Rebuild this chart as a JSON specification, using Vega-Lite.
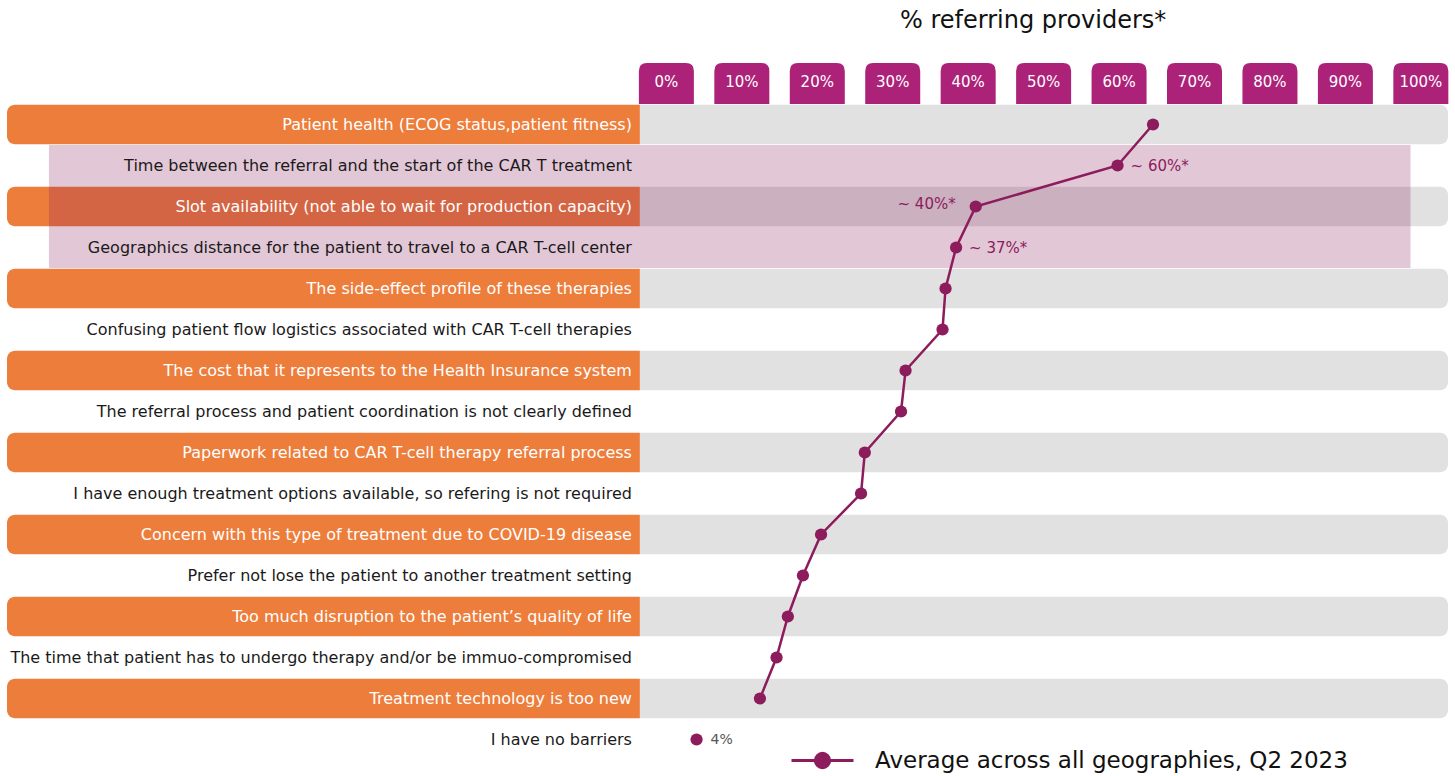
{
  "$schema": "https://vega.github.io/schema/vega-lite/v6.json",
  "autosize": {"type": "none"},
  "width": 1441,
  "height": 697,
  "padding": {"left": 7, "top": 63, "right": 7, "bottom": 16},
  "background": "white",
  "config": {"view": {"stroke": null}, "font": "DejaVu Sans"},
  "title": {"text": "% referring providers*", "anchor": "start", "dx": 893, "offset": 30, "fontSize": 24, "font": "DejaVu Sans", "fontWeight": "normal", "color": "#111111"},
  "datasets": {
    "rows": [
      {"label": "Patient health (ECOG status,patient fitness)", "pct": 64.5, "note": ""},
      {"label": "Time between the referral and the start of the CAR T treatment", "pct": 59.8, "note": "~ 60%*"},
      {"label": "Slot availability (not able to wait for production capacity)", "pct": 41.0, "note": "~ 40%*"},
      {"label": "Geographics distance for the patient to travel to a CAR T-cell center", "pct": 38.4, "note": "~ 37%*"},
      {"label": "The side-effect profile of these therapies", "pct": 37.0, "note": ""},
      {"label": "Confusing patient flow logistics associated with CAR T-cell therapies", "pct": 36.6, "note": ""},
      {"label": "The cost that it represents to the Health Insurance system", "pct": 31.7, "note": ""},
      {"label": "The referral process and patient coordination is not clearly defined", "pct": 31.1, "note": ""},
      {"label": "Paperwork related to CAR T-cell therapy referral process", "pct": 26.3, "note": ""},
      {"label": "I have enough treatment options available, so refering is not required", "pct": 25.8, "note": ""},
      {"label": "Concern with this type of treatment due to COVID-19 disease", "pct": 20.5, "note": ""},
      {"label": "Prefer not lose the patient to another treatment setting", "pct": 18.1, "note": ""},
      {"label": "Too much disruption to the patient’s quality of life", "pct": 16.1, "note": ""},
      {"label": "The time that patient has to undergo therapy and/or be immuo-compromised", "pct": 14.6, "note": ""},
      {"label": "Treatment technology is too new", "pct": 12.4, "note": ""},
      {"label": "I have no barriers", "pct": 4.0, "note": "4%"}
    ],
    "ticks": [
      {"t": 0, "lab": "0%"}, {"t": 10, "lab": "10%"}, {"t": 20, "lab": "20%"}, {"t": 30, "lab": "30%"},
      {"t": 40, "lab": "40%"}, {"t": 50, "lab": "50%"}, {"t": 60, "lab": "60%"}, {"t": 70, "lab": "70%"},
      {"t": 80, "lab": "80%"}, {"t": 90, "lab": "90%"}, {"t": 100, "lab": "100%"}
    ]
  },
  "data": {"name": "rows"},
  "transform": [{"window": [{"op": "row_number", "as": "rank"}]}],
  "encoding": {
    "y": {
      "field": "label", "type": "nominal", "axis": null, "sort": null,
      "scale": {
        "paddingInner": 0, "paddingOuter": 0,
        "domain": ["hdr",
          "Patient health (ECOG status,patient fitness)",
          "Time between the referral and the start of the CAR T treatment",
          "Slot availability (not able to wait for production capacity)",
          "Geographics distance for the patient to travel to a CAR T-cell center",
          "The side-effect profile of these therapies",
          "Confusing patient flow logistics associated with CAR T-cell therapies",
          "The cost that it represents to the Health Insurance system",
          "The referral process and patient coordination is not clearly defined",
          "Paperwork related to CAR T-cell therapy referral process",
          "I have enough treatment options available, so refering is not required",
          "Concern with this type of treatment due to COVID-19 disease",
          "Prefer not lose the patient to another treatment setting",
          "Too much disruption to the patient’s quality of life",
          "The time that patient has to undergo therapy and/or be immuo-compromised",
          "Treatment technology is too new",
          "I have no barriers"]
      }
    }
  },
  "layer": [
    {
      "transform": [{"filter": "datum.rank % 2 == 1 && datum.rank < 16"}],
      "mark": {"type": "bar", "color": "#ED7D3B", "height": {"band": 0.96}, "cornerRadiusTopLeft": 8, "cornerRadiusBottomLeft": 8},
      "encoding": {
        "x": {"datum": -87.4, "type": "quantitative", "axis": null, "scale": {"domain": [-87.4, 103.6], "nice": false, "zero": false}},
        "x2": {"datum": -3.51}
      }
    },
    {
      "transform": [{"filter": "datum.rank % 2 == 1 && datum.rank < 16"}],
      "mark": {"type": "bar", "color": "#E1E1E1", "height": {"band": 0.96}, "cornerRadiusTopRight": 8, "cornerRadiusBottomRight": 8},
      "encoding": {
        "x": {"datum": -3.51, "type": "quantitative", "axis": null},
        "x2": {"datum": 103.6}
      }
    },
    {
      "transform": [{"filter": "datum.rank >= 2 && datum.rank <= 4"}],
      "mark": {"type": "rect", "color": "#8B2060", "opacity": 0.25},
      "encoding": {
        "x": {"datum": -81.84, "type": "quantitative", "axis": null},
        "x2": {"datum": 98.63}
      }
    },
    {
      "data": {"name": "ticks"},
      "mark": {"type": "point", "filled": true, "opacity": 1, "color": "#AD2279", "size": 3025,
        "shape": "M-1,0.745L-1,-0.455Q-1,-0.745 -0.71,-0.745L0.71,-0.745Q1,-0.745 1,-0.455L1,0.745Z"},
      "encoding": {
        "x": {"field": "t", "type": "quantitative", "axis": null},
        "y": {"datum": "hdr"}
      }
    },
    {
      "data": {"name": "ticks"},
      "mark": {"type": "text", "color": "white", "fontSize": 15, "font": "DejaVu Sans", "baseline": "middle", "align": "center", "dy": -2},
      "encoding": {
        "x": {"field": "t", "type": "quantitative", "axis": null},
        "y": {"datum": "hdr"},
        "text": {"field": "lab"}
      }
    },
    {
      "mark": {"type": "text", "align": "right", "baseline": "middle", "dx": -8, "fontSize": 16, "font": "DejaVu Sans"},
      "encoding": {
        "x": {"datum": -3.51, "type": "quantitative", "axis": null},
        "text": {"field": "label"},
        "color": {"condition": {"test": "datum.rank % 2 == 1 && datum.rank < 16", "value": "#FFFFFF"}, "value": "#1A1A1A"}
      }
    },
    {
      "transform": [{"filter": "datum.rank <= 15"}],
      "mark": {"type": "line", "strokeWidth": 2.5},
      "encoding": {
        "x": {"field": "pct", "type": "quantitative", "axis": null},
        "color": {"datum": "Average across all geographies, Q2 2023", "type": "nominal",
          "scale": {"range": ["#8C1C5C"]},
          "legend": {
            "title": null, "orient": "none", "legendX": 783, "legendY": 665, "padding": 0,
            "symbolType": "M-1,0H1M0.23,0A0.23,0.23 0 1,1 -0.23,0A0.23,0.23 0 1,1 0.23,0Z",
            "symbolSize": 3844, "symbolStrokeWidth": 3,
            "labelFontSize": 23, "labelFont": "DejaVu Sans", "labelColor": "#111111", "labelOffset": 20, "labelLimit": 0,
            "encode": {"symbols": {"update": {"fill": {"value": "#8C1C5C"}, "stroke": {"value": "#8C1C5C"}, "strokeWidth": {"value": 3}, "opacity": {"value": 1}}}}
          }
        }
      }
    },
    {
      "mark": {"type": "circle", "size": 150, "opacity": 1},
      "encoding": {
        "x": {"field": "pct", "type": "quantitative", "axis": null},
        "color": {"datum": "Average across all geographies, Q2 2023", "type": "nominal"}
      }
    },
    {
      "transform": [{"filter": "datum.rank == 2 || datum.rank == 4"}],
      "mark": {"type": "text", "align": "left", "baseline": "middle", "dx": 13, "fontSize": 15, "font": "DejaVu Sans", "color": "#8C1C5C"},
      "encoding": {
        "x": {"field": "pct", "type": "quantitative", "axis": null},
        "text": {"field": "note"}
      }
    },
    {
      "transform": [{"filter": "datum.rank == 3"}],
      "mark": {"type": "text", "align": "right", "baseline": "middle", "dx": -20, "dy": -3, "fontSize": 15, "font": "DejaVu Sans", "color": "#8C1C5C"},
      "encoding": {
        "x": {"field": "pct", "type": "quantitative", "axis": null},
        "text": {"field": "note"}
      }
    },
    {
      "transform": [{"filter": "datum.rank == 16"}],
      "mark": {"type": "text", "align": "left", "baseline": "middle", "dx": 14, "fontSize": 14, "font": "DejaVu Sans", "color": "#555555"},
      "encoding": {
        "x": {"field": "pct", "type": "quantitative", "axis": null},
        "text": {"field": "note"}
      }
    }
  ]
}
